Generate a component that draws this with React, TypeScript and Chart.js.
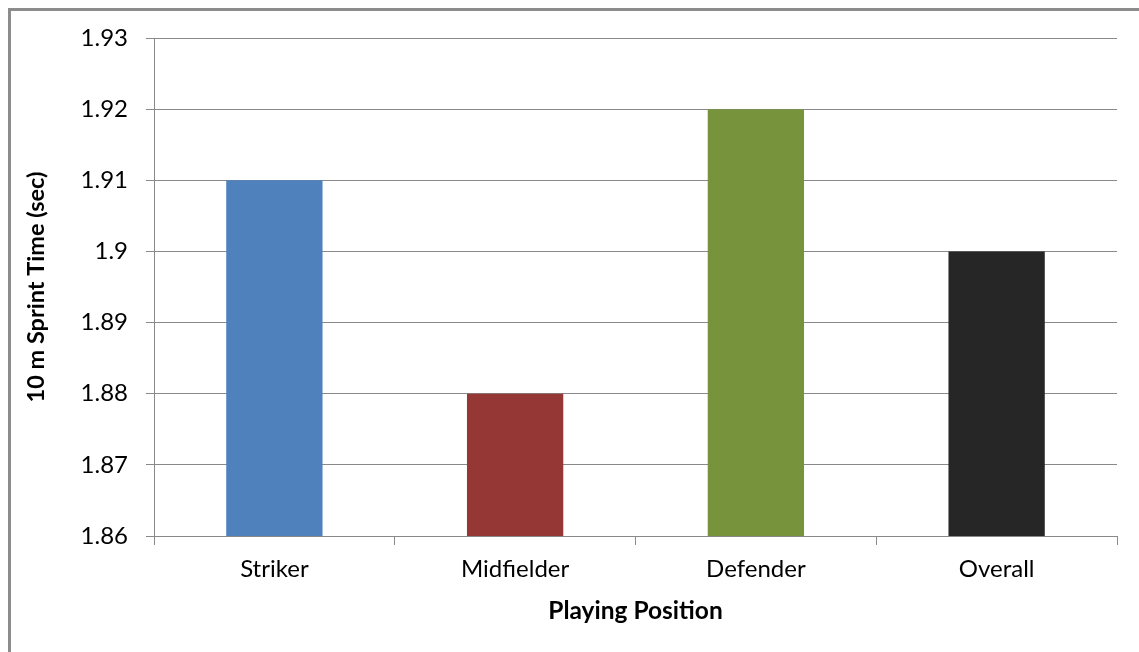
import React, { useEffect, useRef } from "react";
import { Chart, registerables } from "chart.js";

Chart.register(...registerables);

const categories = ["Striker", "Midfielder", "Defender", "Overall"];
const sprintTimes = [1.91, 1.88, 1.92, 1.9];
const barColors = ["#4F81BD", "#953735", "#77933C", "#262626"];
const yTickValues = [1.86, 1.87, 1.88, 1.89, 1.9, 1.91, 1.92, 1.93];
const yTitle = "10 m Sprint Time (sec)";
const xTitle = "Playing Position";

const FONT = "Lato, 'Open Sans', sans-serif";
const GRID = "#898989";

export default function App() {
  const ref = useRef<HTMLCanvasElement | null>(null);

  useEffect(() => {
    if (!ref.current) return;
    const chart = new Chart(ref.current, {
      type: "bar",
      data: {
        labels: categories,
        datasets: [
          {
            data: sprintTimes,
            backgroundColor: barColors,
            borderWidth: 0,
            categoryPercentage: 1,
            barPercentage: 0.4,
          },
        ],
      },
      options: {
        responsive: false,
        animation: false,
        layout: { padding: { left: 10, top: 38, right: 22, bottom: 10 } },
        plugins: { legend: { display: false }, tooltip: { enabled: false } },
        scales: {
          x: {
            grid: {
              offset: true,
              drawOnChartArea: false,
              drawTicks: true,
              tickLength: 9,
              color: GRID,
              lineWidth: 1,
            },
            border: { display: true, color: GRID, width: 1 },
            ticks: {
              color: "#000",
              font: { family: FONT, size: 24 },
              padding: 10,
              maxRotation: 0,
            },
            title: {
              display: true,
              text: xTitle,
              color: "#000",
              font: { family: FONT, size: 24.5, weight: "bold" },
              padding: { top: 0, bottom: 16 },
            },
            afterFit: (s: any) => {
              s.height = 652 - 10 - 536;
            },
          },
          y: {
            min: 1.86,
            max: 1.93,
            afterBuildTicks: (s: any) => {
              s.ticks = yTickValues.map((v) => ({ value: v }));
            },
            grid: {
              color: GRID,
              lineWidth: 1,
              drawTicks: true,
              tickLength: 8,
            },
            border: { display: true, color: GRID, width: 1 },
            ticks: {
              color: "#000",
              font: { family: FONT, size: 24 },
              padding: 18,
              callback: (v: any) => String(Number(Number(v).toFixed(2))),
            },
            title: {
              display: true,
              text: yTitle,
              color: "#000",
              font: { family: FONT, size: 23.5, weight: "bold" },
              padding: { top: 12, bottom: 0 },
            },
            afterFit: (s: any) => {
              s.width = 154 - 10;
            },
          },
        },
      },
    });
    return () => chart.destroy();
  }, []);

  return (
    <>
      <div
        style={{
          position: "fixed",
          left: 8,
          top: 8,
          width: 1200,
          height: 700,
          borderLeft: "3px solid #8c8c8c",
          borderTop: "3px solid #8c8c8c",
          boxSizing: "border-box",
        }}
      />
      <canvas
        ref={ref}
        width={1139}
        height={652}
        style={{ position: "fixed", left: 0, top: 0, width: 1139, height: 652 }}
      />
    </>
  );
}
